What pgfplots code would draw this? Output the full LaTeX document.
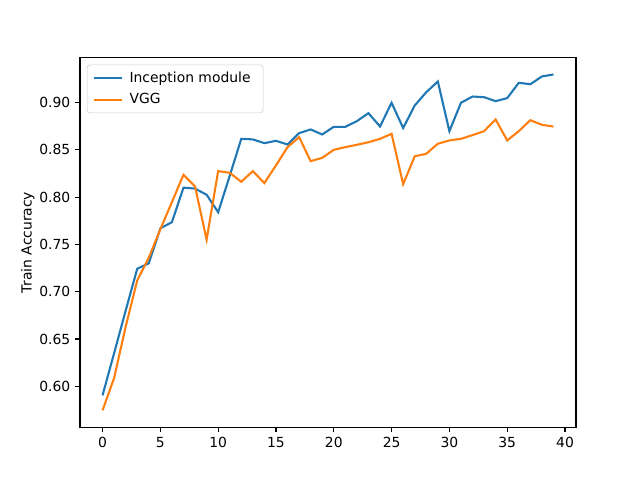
\documentclass[border=0pt]{standalone}
\usepackage{pgfplots}
\pgfplotsset{compat=1.18}
\usepackage{fontspec}
\setmainfont{DejaVu Sans}
\definecolor{tabblue}{HTML}{1F77B4}
\definecolor{taborange}{HTML}{FF7F0E}
\begin{document}
\begin{tikzpicture}
\begin{axis}[
  at={(0,0)}, anchor=south west,
  scale only axis,
  width=357.12pt, height=266.1pt,
  xmin=-1.95, xmax=40.95,
  ymin=0.5568, ymax=0.9474,
  xtick={0,5,...,40},
  ytick={0.60,0.65,...,0.91},
  /pgf/number format/assume math mode=true,
  yticklabel style={/pgf/number format/.cd,fixed,fixed zerofill,precision=2},
  xticklabel style={/pgf/number format/.cd,fixed,precision=0},
  tick label style={font=\fontsize{10}{12}\selectfont},
  tick align=outside,
  xtick pos=lower, ytick pos=left,
  major tick length=3.5pt,
  tick style={black, line width=0.8pt},
  axis line style={line width=0.8pt},
  ylabel={Train Accuracy},
  ylabel style={font=\fontsize{10}{12}\selectfont, yshift=-3.5pt},
  legend style={at={(0,1)}, anchor=north west, xshift=5pt, yshift=-5pt,
    draw=black!20, rounded corners=2pt, font=\fontsize{10}{12}\selectfont,
    inner xsep=4pt, inner ysep=3pt, row sep=2.5pt,
    /tikz/every even column/.append style={column sep=0pt},
    nodes={inner xsep=5pt}},
  legend cell align=left,
  legend image code/.code={\draw[#1, line width=1.5pt] (0pt,0pt) -- (20pt,0pt);},
]
\addplot[color=tabblue, line width=1.5pt] coordinates {
(0,0.5905) (1,0.635) (2,0.680) (3,0.7243) (4,0.730) (5,0.767) (6,0.7735) (7,0.810) (8,0.809) (9,0.8025)
(10,0.784) (11,0.8225) (12,0.8616) (13,0.861) (14,0.857) (15,0.8595) (16,0.8556) (17,0.8676) (18,0.8715) (19,0.8662)
(20,0.8743) (21,0.8743) (22,0.8803) (23,0.8887) (24,0.8746) (25,0.8997) (26,0.8730) (27,0.8968) (28,0.9109) (29,0.9222)
(30,0.8697) (31,0.8997) (32,0.9063) (33,0.9056) (34,0.9014) (35,0.9046) (36,0.9208) (37,0.9193) (38,0.9275) (39,0.9296)
};
\addlegendentry{Inception module}
\addplot[color=taborange, line width=1.5pt] coordinates {
(0,0.5746) (1,0.6088) (2,0.663) (3,0.712) (4,0.736) (5,0.766) (6,0.7947) (7,0.8236) (8,0.8113) (9,0.755)
(10,0.8275) (11,0.8257) (12,0.8162) (13,0.8275) (14,0.8148) (15,0.8335) (16,0.8528) (17,0.8634) (18,0.838) (19,0.8415)
(20,0.850) (21,0.8528) (22,0.8553) (23,0.858) (24,0.8616) (25,0.8669) (26,0.8137) (27,0.8431) (28,0.8458) (29,0.8564)
(30,0.8599) (31,0.8616) (32,0.8655) (33,0.8697) (34,0.882) (35,0.8599) (36,0.8697) (37,0.8813) (38,0.8764) (39,0.8746)
};
\addlegendentry{VGG}
\end{axis}
\useasboundingbox (-57.6pt,-38.0pt) rectangle (403.2pt,307.6pt);
\end{tikzpicture}
\end{document}
